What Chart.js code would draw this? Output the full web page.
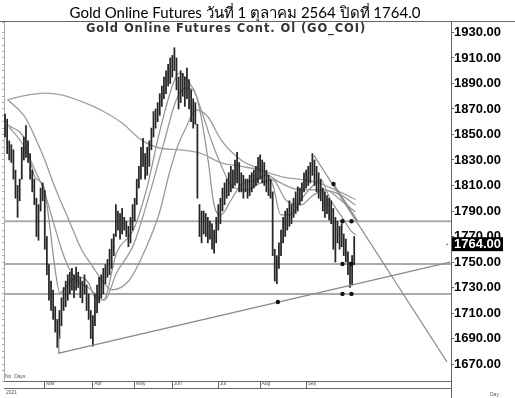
<!DOCTYPE html>
<html><head><meta charset="utf-8">
<script src="https://cdn.jsdelivr.net/npm/chart.js@4.4.1/dist/chart.umd.min.js"></script>
<style>html,body{margin:0;padding:0;background:#fff;}</style>
</head><body>
<canvas id="c" width="515" height="398"></canvas>
<script>
const titleText = 'Gold Online Futures วันที่ 1 ตุลาคม 2564 ปิดที่ 1764.0';
const innerTitle = 'Gold Online Futures Cont. Ol (GO_COI)';
const monthLabels = ['Mar','Apr','May','Jun','Jul','Aug','Sep'];
const monthStartDay = [19,42,62,80,102,122,144];
const yearLabel = '2021';
const yTickValues = [1670,1680,1690,1700,1710,1720,1730,1740,1750,1760,1770,1780,1790,1800,1810,1820,1830,1840,1850,1860,1870,1880,1890,1900,1910,1920,1930];
const lastClose = 1764.0;

const barLows = [1848,1835,1830,1828,1815,1800,1785,1798,1815,1830,1832,1828,1815,1805,1795,1770,1767,1790,1798,1760,
1740,1720,1712,1705,1695,1683,1690,1700,1712,1715,1720,1725,1728,1722,1728,1730,1722,1718,1725,1712,
1705,1690,1684,1700,1710,1718,1722,1725,1733,1738,1740,1745,1755,1770,1775,1768,1772,1775,1770,1762,
1765,1775,1782,1795,1808,1815,1825,1815,1818,1825,1838,1848,1855,1860,1865,1872,1878,1882,1888,1890,
1895,1900,1885,1870,1875,1880,1872,1878,1870,1860,1855,1858,1800,1770,1765,1772,1770,1765,1768,1760,
1757,1765,1775,1780,1790,1795,1800,1802,1805,1808,1810,1812,1805,1805,1800,1805,1800,1802,1805,1808,
1810,1812,1815,1812,1810,1805,1802,1800,1755,1735,1733,1745,1755,1765,1770,1775,1778,1780,1785,1788,
1790,1795,1798,1805,1808,1810,1812,1818,1810,1805,1800,1798,1790,1785,1788,1783,1780,1760,1750,1765,
1760,1762,1755,1750,1740,1730,1732,1748];
const barHighs = [1866,1862,1845,1842,1838,1822,1810,1815,1840,1848,1857,1845,1835,1822,1815,1800,1795,1808,1812,1806,
1770,1748,1735,1728,1715,1705,1712,1722,1730,1735,1740,1742,1745,1740,1746,1742,1738,1735,1740,1732,
1725,1712,1708,1725,1732,1738,1740,1745,1748,1752,1760,1768,1772,1795,1790,1788,1792,1785,1782,1778,
1785,1795,1800,1815,1825,1840,1847,1835,1840,1845,1855,1868,1870,1875,1882,1888,1895,1900,1905,1910,
1912,1918,1910,1895,1900,1898,1895,1902,1893,1885,1878,1875,1858,1795,1790,1790,1788,1785,1782,1780,
1775,1785,1795,1800,1808,1812,1815,1820,1825,1822,1830,1836,1828,1820,1818,1815,1815,1818,1820,1822,
1825,1832,1834,1830,1828,1822,1818,1815,1805,1760,1755,1765,1775,1785,1790,1792,1798,1795,1800,1805,
1809,1808,1812,1820,1822,1825,1828,1835,1830,1825,1820,1815,1808,1805,1802,1800,1798,1792,1785,1782,
1778,1780,1772,1768,1758,1750,1755,1770];

const maFastDays = [1.4,9.5,14.3,18.6,21,23.8,26.2,30.5,35.2,40,42.9,47.1,53.3,61.4,67.6,73.8,80.5,83.3,88.1,91.4,93.8,97.1,100,103.3,108.1,112.9,120,124.8,128.1,131.9,136.7,141.4,147.6,151,155.7,160.5,165.2,167.6];
const maFastValues = [1857.5,1845.7,1816.7,1808.8,1783,1746,1725.7,1733.5,1738.3,1733.5,1722.6,1720.2,1757.1,1775.1,1806.5,1851.2,1890.4,1898.2,1890.4,1881,1863.7,1830,1794.7,1786.9,1798.6,1810.4,1814.3,1818.2,1810.4,1786.9,1786.9,1798.6,1810.4,1814.3,1798.6,1786.9,1775.1,1771.2];
const maMidDays = [1.9,8.1,14.3,19,22.4,27.1,30.5,35.2,40,43.8,47.6,53.3,61.4,69,75.7,81.9,86.7,90,93.8,98.6,103.3,108.1,115.2,122.4,128.1,134.3,141.4,147.6,153.3,160.5,167.6];
const maMidValues = [1855.9,1843.3,1822.2,1804.1,1785.3,1759.4,1745.3,1734.3,1729.6,1724.1,1720.2,1741.4,1763.3,1802.6,1841.8,1877.1,1886.5,1884.9,1869.2,1845.7,1826.1,1810.4,1806.5,1812,1814.3,1798.6,1794.7,1802.6,1806.5,1798.6,1789.2];
const maSlowDays = [1.4,9.5,14.3,19,23.8,30.5,36.7,41.4,46.2,51,59.5,67.6,73.8,78.6,81.9,86.7,91.4,97.1,103.3,112.9,122.4,131.9,141.4,151,160.5,167.6];
const maSlowValues = [1877.1,1863.7,1848.1,1830,1808.8,1783,1759.4,1747.7,1735.9,1728.1,1735.9,1761.8,1788.4,1819.8,1837.9,1855.9,1869.2,1863.7,1845.7,1830,1822.2,1812,1806.5,1806.5,1802.6,1794.7];
const maLongDays = [1,8,19,27,37,46,56,65,75,84,94,103,113,122,132,148,158,167.6];
const maLongValues = [1877,1880,1882.5,1881,1875.5,1869,1859,1846,1839,1838,1835,1828,1825,1822,1817,1813,1806.5,1799];

const hLevels = [1782, 1748.5, 1725];
const supportDays = [25.7, 25.7, 212.9];
const supportValues = [1692.8, 1678.6, 1750];
const resistDays = [147.6, 211.4];
const resistValues = [1833.9, 1671.6];
const shortResistDays = [157.1, 168.6];
const shortResistValues = [1811.2, 1782.2];
const markerDays = [130.5, 157.1, 161.4, 165.7, 161.4, 165.7, 161.4, 165.7];
const markerValues = [1718.6, 1811.2, 1782, 1782, 1748.5, 1748.5, 1725, 1725];

const X_MIN = -0.5, X_MAX = 213.3, Y_MIN = 1656.7, Y_MAX = 1938.2;
const pts = (xs, ys) => xs.map((x, i) => ({x, y: ys[i]}));
const lineDs = (data, color, width, order, extra) => Object.assign({
  type: 'line', data, borderColor: color, borderWidth: width, pointRadius: 0,
  fill: false, order, yAxisID: 'y', xAxisID: 'x'
}, extra || {});

const datasets = [];
hLevels.forEach(l => datasets.push(lineDs([{x: X_MIN, y: l}, {x: X_MAX, y: l}], '#ababab', 2, 6)));
datasets.push(lineDs(pts(maLongDays, maLongValues), '#a0a0a0', 1.3, 5, {cubicInterpolationMode: 'monotone'}));
datasets.push(lineDs(pts(maSlowDays, maSlowValues), '#9a9a9a', 1.3, 5, {cubicInterpolationMode: 'monotone'}));
datasets.push(lineDs(pts(maMidDays, maMidValues), '#9a9a9a', 1.3, 5, {cubicInterpolationMode: 'monotone'}));
datasets.push(lineDs(pts(maFastDays, maFastValues), '#8f8f8f', 1.2, 5, {cubicInterpolationMode: 'monotone'}));
datasets.push({
  type: 'bar', data: barLows.map((lo, i) => ({x: i, y: [lo, barHighs[i]]})),
  backgroundColor: '#262626', barThickness: 1.1, grouped: false, order: 3, yAxisID: 'y', xAxisID: 'x'
});
datasets.push(lineDs(pts(supportDays, supportValues), '#8a8a8a', 1.3, 2));
datasets.push(lineDs(pts(resistDays, resistValues), '#8a8a8a', 1.3, 2));
datasets.push(lineDs(pts(shortResistDays, shortResistValues), '#8a8a8a', 1.3, 2));
datasets.push(lineDs(pts(markerDays, markerValues), '#111', 0, 1, {showLine: false, pointRadius: 2.2, pointBackgroundColor: '#111', pointBorderWidth: 0}));

const extras = {
  id: 'extras',
  afterDraw(chart) {
    const {ctx, chartArea: ca, scales} = chart;
    ctx.save();
    // main title
    ctx.font = '15px Lato, "Liberation Sans", sans-serif';
    ctx.fillStyle = '#000';
    ctx.textAlign = 'center';
    ctx.textBaseline = 'middle';
    ctx.fillText(titleText, 245, 13);
    // top border
    ctx.strokeStyle = '#666'; ctx.lineWidth = 1;
    ctx.beginPath();
    ctx.moveTo(0, ca.top - 0.5); ctx.lineTo(515, ca.top - 0.5);
    ctx.stroke();
    // inner title
    ctx.font = 'bold 11.5px "DejaVu Sans", Verdana, sans-serif';
    ctx.fillStyle = '#333';
    try { ctx.letterSpacing = '0.9px'; } catch (e) {}
    ctx.fillText(innerTitle, 226, 29);
    try { ctx.letterSpacing = '0px'; } catch (e) {}
    // bottom band
    ctx.strokeStyle = '#666'; ctx.lineWidth = 1;
    ctx.beginPath();
    ctx.moveTo(ca.left, ca.bottom + 7.5); ctx.lineTo(ca.right, ca.bottom + 7.5);
    ctx.moveTo(ca.right + 0.5, ca.bottom); ctx.lineTo(ca.right + 0.5, 398);
    ctx.stroke();
    ctx.font = '5px "Liberation Sans", Arial, sans-serif';
    ctx.fillStyle = '#555';
    ctx.textAlign = 'left';
    ctx.fillText(yearLabel, 6, ca.bottom + 12);
    ctx.fillText('No. Days', 5, ca.bottom - 4);
    ctx.fillText('Day :', 490, 395);
    // last price box
    const py = scales.y.getPixelForValue(lastClose);
    ctx.fillStyle = '#000';
    ctx.fillRect(ca.right + 1, py - 7, 51, 14);
    ctx.fillStyle = '#fff';
    ctx.font = 'bold 13px "Liberation Sans", Arial, sans-serif';
    ctx.textBaseline = 'middle';
    ctx.fillText(lastClose.toFixed(2), ca.right + 3, py + 0.5);
    ctx.fillStyle = '#777';
    ctx.fillRect(scales.x.getPixelForValue(211.4) - 0.5, py - 0.5, 1.5, 1.5);
    ctx.restore();
  }
};

new Chart(document.getElementById('c'), {
  type: 'bar',
  data: {datasets},
  options: {
    responsive: false, animation: false, devicePixelRatio: 1,
    layout: {padding: {top: 22}},
    plugins: {
      legend: {display: false}, tooltip: {enabled: false}, title: {display: false}
    },
    scales: {
      x: {
        type: 'linear', position: 'bottom', min: X_MIN, max: X_MAX, offset: false,
        afterFit: s => { s.height = 17; },
        afterBuildTicks: s => { s.ticks = monthStartDay.map(v => ({value: v})); },
        ticks: {callback: (v, i) => ' ' + monthLabels[i], font: {size: 5, family: 'Liberation Sans'}, color: '#555',
          align: 'start', padding: -7, maxRotation: 0, autoSkip: false},
        grid: {drawOnChartArea: false, offset: false, tickLength: 7, color: '#666'},
        border: {color: '#666'}
      },
      y: {
        type: 'linear', position: 'right', min: Y_MIN, max: Y_MAX,
        afterFit: s => { s.width = 64; },
        afterBuildTicks: s => { s.ticks = yTickValues.map(v => ({value: v})); },
        ticks: {callback: v => Number(v).toFixed(2), color: '#000', crossAlign: 'near', padding: 0,
          font: {family: '"Liberation Sans", Arial, sans-serif', size: 13, weight: 'bold'}},
        grid: {drawOnChartArea: false, tickLength: 3, color: '#666'},
        border: {color: '#666'}
      },
      yL: {
        type: 'linear', position: 'left', min: Y_MIN, max: Y_MAX,
        afterFit: s => { s.width = 2; },
        ticks: {display: false, stepSize: 5},
        grid: {drawOnChartArea: false, tickLength: 2, color: '#aaa'},
        border: {color: '#aaa'}
      }
    }
  },
  plugins: [extras]
});
</script>
</body></html>
